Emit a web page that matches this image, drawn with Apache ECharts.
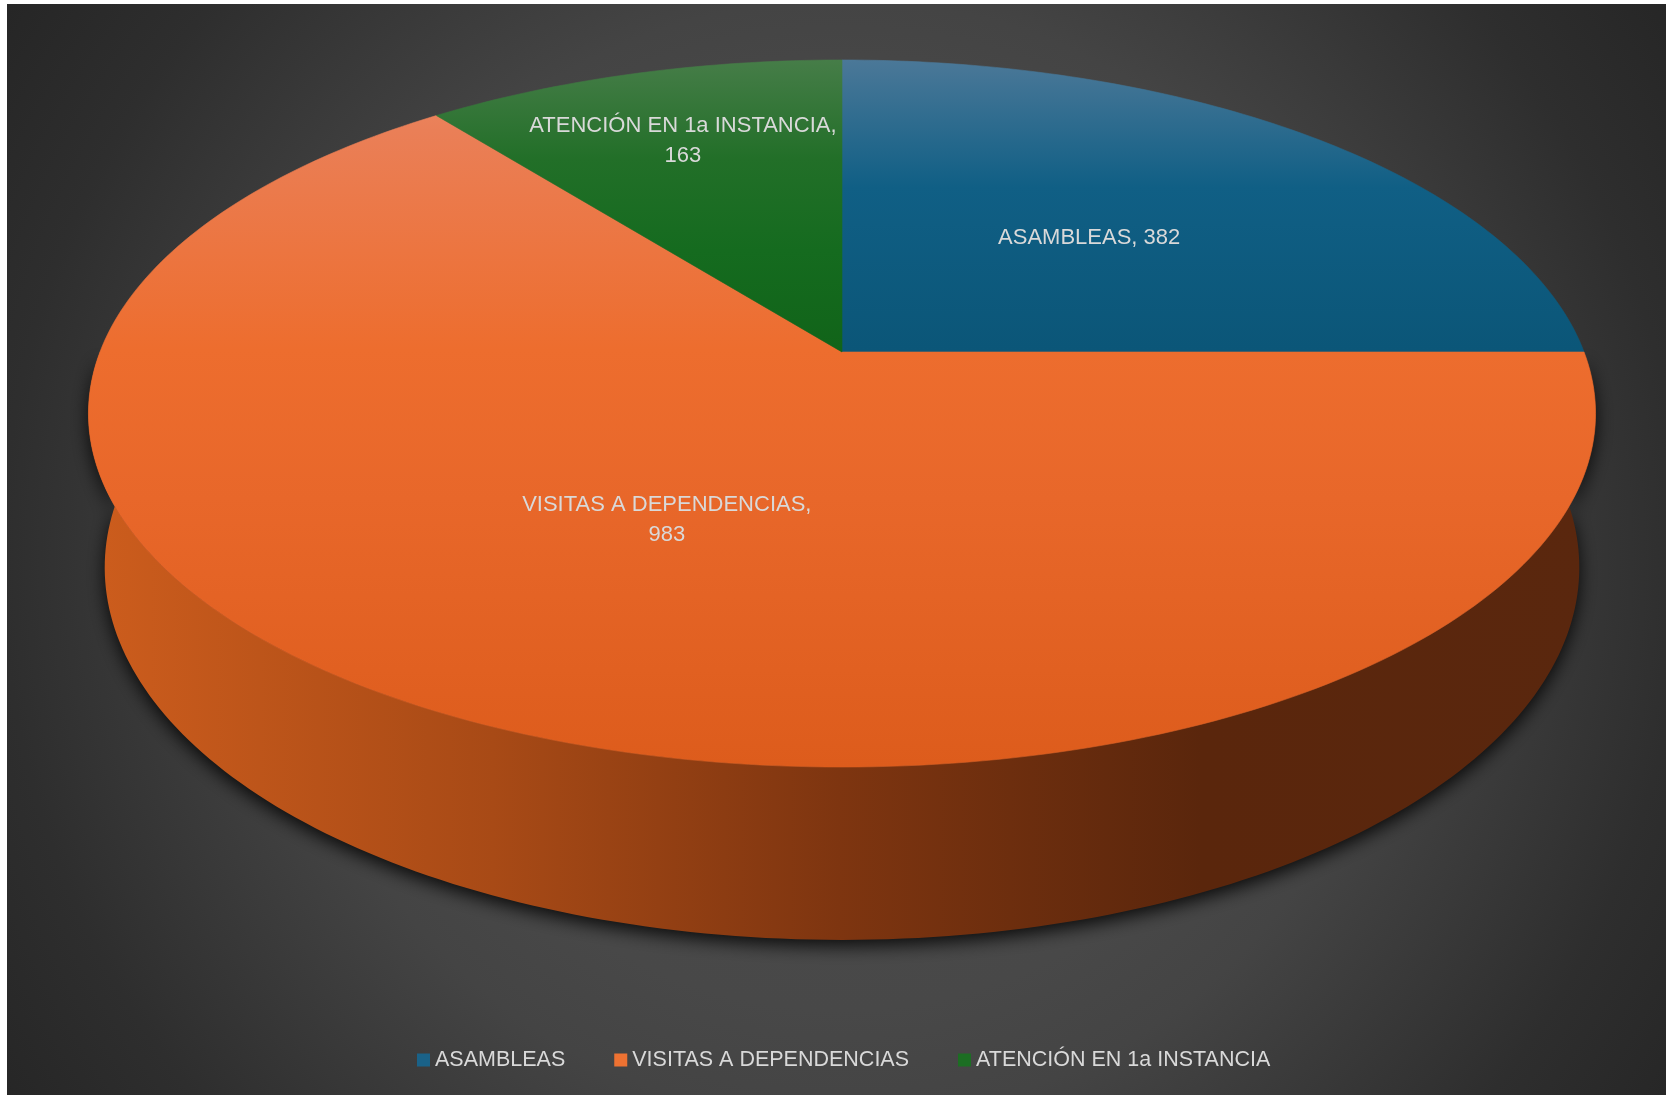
<!DOCTYPE html>
<html>
<head>
  <meta charset="utf-8">
  <title>Pie 3D</title>
  <script src="https://cdn.jsdelivr.net/npm/echarts@6/dist/echarts.min.js"></script>
  <style>
    body { margin: 0; background: #ffffff; }
  </style>
</head>
<body>
  <div id="main" style="width: 1667px;height:1095px;"></div>
  <script type="text/javascript">
    // datos
    var categories = ['ASAMBLEAS', 'VISITAS A DEPENDENCIAS', 'ATENCIÓN EN 1a INSTANCIA'];
    var values = [382, 983, 163];

    var legendColors = ['#1a6288', '#ee7232', '#1c6e23'];
    var topStops = [
      [[0, '#4b7898'], [0.18, '#105f85'], [0.41, '#0b5678'], [1, '#0a4f6e']],
      [[0, '#ee8c68'], [0.1, '#ea7f57'], [0.27, '#ec7540'], [0.41, '#ed6d2e'], [0.62, '#e8672a'], [1, '#dd5c1c']],
      [[0, '#467d48'], [0.14, '#226f28'], [0.27, '#156b1f'], [0.41, '#116419'], [1, '#0e5a16']]
    ];
    var labelRadius = [0.5, 0.5, 0.73];

    // proyeccion en perspectiva del disco
    var CX = 842, CY = 352, FOC = 3783, DIST = 5.098, SIN = 0.462, COS = 0.887, THICK = 0.236;
    function proj(u, v, z) {
      var depth = DIST + v * COS - z * SIN;
      var yc = v * SIN + z * COS;
      return [CX + FOC * u / depth, CY - FOC * yc / depth];
    }
    function rim(deg, z, r) {
      var a = deg * Math.PI / 180;
      return proj(r * Math.sin(a), r * Math.cos(a), z);
    }

    var total = values.reduce(function (s, v) { return s + v; }, 0);

    function renderItem(params, api) {
      var idx = api.value(1);
      var before = 0;
      for (var i = 0; i < idx; i++) before += values[i];
      var a0 = before / total * 360;
      var a1 = (before + api.value(0)) / total * 360;
      var children = [];

      // pared lateral (solo la parte frontal)
      var lo = Math.max(a0, 90), hi = Math.min(a1, 270);
      if (lo < hi) {
        var wall = [];
        for (var t = lo; t <= hi; t += 1) wall.push(rim(t, 0, 1));
        wall.push(rim(hi, 0, 1));
        for (var t2 = hi; t2 >= lo; t2 -= 1) wall.push(rim(t2, -THICK, 1));
        wall.push(rim(lo, -THICK, 1));
        var wallFill = new echarts.graphic.LinearGradient(85, 0, 1595, 0, [
          { offset: 0, color: '#cd5d1d' },
          { offset: 0.27, color: '#a84a16' },
          { offset: 0.5, color: '#7e3510' },
          { offset: 0.74, color: '#5a260c' },
          { offset: 1, color: '#5a270e' }
        ], true);
        children.push({
          type: 'polygon',
          z2: 1,
          shape: { points: wall },
          style: {
            fill: wallFill,
            shadowBlur: 18,
            shadowColor: 'rgba(0,0,0,0.85)',
            shadowOffsetY: 6
          }
        });
      }

      // cara superior
      var pts = [proj(0, 0, 0)];
      for (var s = a0; s < a1; s += 1) pts.push(rim(s, 0, 1));
      pts.push(rim(a1, 0, 1));
      var topFill = new echarts.graphic.LinearGradient(0, 60, 0, 767,
        topStops[idx].map(function (st) { return { offset: st[0], color: st[1] }; }), true);
      children.push({
        type: 'polygon',
        z2: 10,
        shape: { points: pts },
        style: { fill: topFill, stroke: topFill, lineWidth: 0.6 }
      });

      // etiqueta
      var mid = (a0 + a1) / 2;
      var p = rim(mid, 0, labelRadius[idx]);
      var name = categories[idx];
      var txt = name.length > 12 ? name + ',\n' + api.value(0) : name + ', ' + api.value(0);
      children.push({
        type: 'text',
        z2: 20,
        x: p[0],
        y: p[1],
        style: {
          text: txt,
          fill: '#d9d9d9',
          fontSize: 22,
          fontFamily: 'Liberation Sans',
          align: 'center',
          verticalAlign: 'middle',
          lineHeight: 30
        }
      });

      return { type: 'group', children: children };
    }

    var myChart = echarts.init(document.getElementById('main'));
    var option = {
      animation: false,
      backgroundColor: '#ffffff',
      graphic: [{
        type: 'rect',
        z: -10,
        silent: true,
        shape: { x: 7, y: 4, width: 1659, height: 1091 },
        style: {
          fill: new echarts.graphic.RadialGradient(842, 560, 1000, [
            { offset: 0, color: '#4d4d4d' },
            { offset: 0.45, color: '#484848' },
            { offset: 0.56, color: '#444444' },
            { offset: 0.7, color: '#393939' },
            { offset: 0.84, color: '#2e2e2e' },
            { offset: 1, color: '#262626' }
          ], true)
        }
      }],
      legend: {
        left: 417,
        top: 1049,
        icon: 'rect',
        itemWidth: 13,
        itemHeight: 13,
        itemGap: 49,
        padding: 0,
        textStyle: { color: '#d9d9d9', fontSize: 21.5, fontFamily: 'Liberation Sans' },
        data: categories
      },
      series: categories.map(function (name, i) {
        return {
          type: 'custom',
          name: name,
          coordinateSystem: 'none',
          renderItem: renderItem,
          itemStyle: { color: legendColors[i] },
          data: [[values[i], i]]
        };
      })
    };
    myChart.setOption(option);
  </script>
</body>
</html>
